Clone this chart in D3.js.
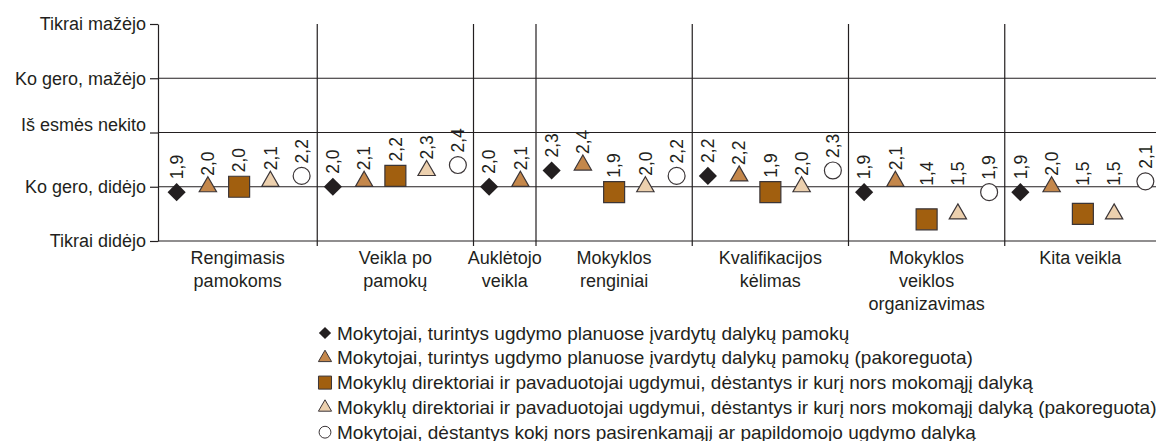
<!DOCTYPE html>
<html>
<head>
<meta charset="utf-8">
<script src="https://cdn.jsdelivr.net/npm/d3@7"></script>
<style>
  body { margin: 0; background: #fff; }
  svg { display: block; font-family: "Liberation Sans", Arial, Helvetica, sans-serif; }
  .tick text { font-size: 18px; fill: #231f20; }
  .cat-label { font-size: 18px; fill: #231f20; }
  .val-label { font-size: 17.5px; fill: #231f20; }
  .legend-label { font-size: 19px; fill: #231f20; }
</style>
</head>
<body>
<svg width="1156" height="441"></svg>
<script>
// categories (label lines)
let categories = [
    ['Rengimasis', 'pamokoms'],
    ['Veikla po', 'pamokų'],
    ['Auklėtojo', 'veikla'],
    ['Mokyklos', 'renginiai'],
    ['Kvalifikacijos', 'kėlimas'],
    ['Mokyklos', 'veiklos', 'organizavimas'],
    ['Kita veikla']
]

let seriesNames = [
    'Mokytojai, turintys ugdymo planuose įvardytų dalykų pamokų',
    'Mokytojai, turintys ugdymo planuose įvardytų dalykų pamokų (pakoreguota)',
    'Mokyklų direktoriai ir pavaduotojai ugdymui, dėstantys ir kurį nors mokomąjį dalyką',
    'Mokyklų direktoriai ir pavaduotojai ugdymui, dėstantys ir kurį nors mokomąjį dalyką (pakoreguota)',
    'Mokytojai, dėstantys kokį nors pasirenkamąjį ar papildomojo ugdymo dalyką'
]

let teachers = [1.9, 2.0, 2.0, 2.3, 2.2, 1.9, 1.9]
let teachersAdj = [2.0, 2.1, 2.1, 2.4, 2.2, 2.1, 2.0]
let directors = [2.0, 2.2, null, 1.9, 1.9, 1.4, 1.5]
let directorsAdj = [2.1, 2.3, null, 2.0, 2.0, 1.5, 1.5]
let electives = [2.2, 2.4, null, 2.2, 2.3, 1.9, 2.1]

let yTickValues = [1, 2, 3, 4, 5]
let yTickLabels = ['Tikrai didėjo', 'Ko gero, didėjo', 'Iš esmės nekito', 'Ko gero, mažėjo', 'Tikrai mažėjo']

let series = [teachers, teachersAdj, directors, directorsAdj, electives]

let styles = [
    { shape: 'diamond', fill: '#231f20', size: 165, legendSize: 75 },
    { shape: 'triangle', fill: '#c4874b', size: 130, legendSize: 75 },
    { shape: 'square', fill: '#a15f0f', size: 440, legendSize: 170 },
    { shape: 'triangle', fill: '#ecd0ae', size: 130, legendSize: 75 },
    { shape: 'circle', fill: '#ffffff', size: 225, legendSize: 110 }
]

let svg = d3.select('svg')
let ink = '#231f20'

// one slot per existing (category, series) value
let points = []
categories.forEach((c, ci) => {
    series.forEach((s, si) => {
        if (s[ci] != null) points.push({ ci: ci, si: si, key: ci + '-' + si, value: s[ci] })
    })
})

let plot = { left: 158, right: 1156, top: 24, bottom: 241 }

let scale = {
    x: d3.scaleBand().domain(points.map(d => d.key)).range([161, 1161]).padding(0),
    y: d3.scaleLinear().domain([1, 5]).range([plot.bottom, plot.top])
}

function symbolPath(style, size) {
    let type = {
        diamond: d3.symbolSquare,
        triangle: d3.symbolTriangle,
        square: d3.symbolSquare,
        circle: d3.symbolCircle
    }[style.shape]
    return d3.symbol().type(type).size(size)()
}

// horizontal grid lines
svg.append('g')
    .selectAll('line')
    .data(yTickValues.slice(0, 4))
    .enter()
    .append('line')
    .attr('x1', plot.left)
    .attr('x2', plot.right)
    .attr('y1', d => scale.y(d))
    .attr('y2', d => scale.y(d))
    .attr('stroke', ink)
    .attr('stroke-width', 1.2)

// group separators
let groupBounds = categories.map((c, ci) => {
    let keys = points.filter(p => p.ci === ci).map(p => p.key)
    let x0 = scale.x(keys[0])
    let x1 = scale.x(keys[keys.length - 1]) + scale.x.bandwidth()
    return { ci: ci, x0: ci === 0 ? plot.left : x0, x1: Math.min(x1, plot.right) }
})

svg.append('g')
    .selectAll('line')
    .data(groupBounds.slice(1))
    .enter()
    .append('line')
    .attr('x1', d => d.x0)
    .attr('x2', d => d.x0)
    .attr('y1', plot.top)
    .attr('y2', plot.bottom + 5)
    .attr('stroke', ink)
    .attr('stroke-width', 1.2)

// Y axis
let axisY = d3.axisLeft(scale.y)
    .tickValues(yTickValues)
    .tickFormat((d, i) => yTickLabels[i])
    .tickSize(8)
    .tickSizeOuter(0)
    .tickPadding(4)

let gy = svg.append('g')
    .attr('transform', `translate(${plot.left},0)`)
    .call(axisY)
gy.selectAll('path, line').attr('stroke', ink).attr('stroke-width', 1.2)
gy.selectAll('.tick text')
    .style('font-family', 'inherit')
    .attr('dy', (d) => d === 3 ? '-0.1em' : '0.32em')

// category labels
let catG = svg.append('g')
    .selectAll('text')
    .data(groupBounds)
    .enter()
    .append('text')
    .attr('class', 'cat-label')
    .attr('text-anchor', 'middle')
    .attr('x', d => (d.x0 + d.x1) / 2)
    .attr('y', 264)
catG.selectAll('tspan')
    .data(d => categories[d.ci].map(line => ({ line: line, x: (d.x0 + d.x1) / 2 })))
    .enter()
    .append('tspan')
    .attr('x', d => d.x)
    .attr('dy', (d, i) => i === 0 ? 0 : 23)
    .text(d => d.line)

// markers
let cx = d => scale.x(d.key) + scale.x.bandwidth() / 2

svg.append('g')
    .selectAll('path')
    .data(points)
    .enter()
    .append('path')
    .attr('d', d => symbolPath(styles[d.si], styles[d.si].size))
    .attr('transform', d => `translate(${cx(d)},${scale.y(d.value)})` + (styles[d.si].shape === 'diamond' ? ' rotate(45)' : ''))
    .attr('fill', d => styles[d.si].fill)
    .attr('stroke', d => styles[d.si].shape === 'diamond' ? 'none' : '#3b3537')
    .attr('stroke-width', 1.2)

// value labels
let halfHeight = { diamond: 9, triangle: 7, square: 10.5, circle: 8.5 }
svg.append('g')
    .selectAll('text')
    .data(points)
    .enter()
    .append('text')
    .attr('class', 'val-label')
    .attr('transform', d => {
        let top = scale.y(d.value) - halfHeight[styles[d.si].shape] - 4
        let yy = Math.min(top, scale.y(2) - 1)
        return `translate(${cx(d)},${yy}) rotate(-90)`
    })
    .attr('dy', '0.36em')
    .text(d => d3.format('.1f')(d.value).replace('.', ','))

// legend
let legend = svg.append('g')
    .selectAll('g')
    .data(seriesNames)
    .enter()
    .append('g')
    .attr('transform', (d, i) => `translate(325,${333 + i * 24.8})`)

legend.append('path')
    .attr('d', (d, i) => symbolPath(styles[i], styles[i].legendSize))
    .attr('transform', (d, i) => styles[i].shape === 'diamond' ? 'rotate(45)' : null)
    .attr('fill', (d, i) => styles[i].fill)
    .attr('stroke', (d, i) => styles[i].shape === 'diamond' ? 'none' : '#3b3537')
    .attr('stroke-width', 1)

legend.append('text')
    .attr('class', 'legend-label')
    .attr('x', 12)
    .attr('dy', '0.35em')
    .text(d => d)
</script>
</body>
</html>
